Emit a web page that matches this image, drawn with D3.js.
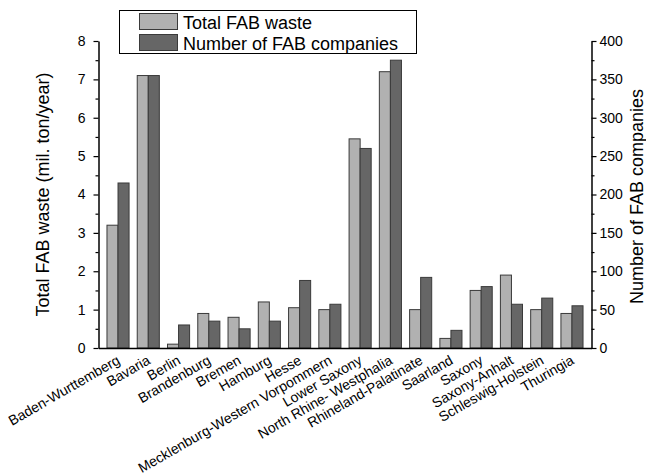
<!DOCTYPE html>
<html>
<head>
<meta charset="utf-8">
<script src="https://cdn.jsdelivr.net/npm/d3@7"></script>
<style>
  html, body { margin: 0; padding: 0; background: #fff; }
  svg { display: block; }
  svg text { font-family: Arial, "Liberation Sans", sans-serif; }
</style>
</head>
<body>
<svg id="chart" width="646" height="475"></svg>
<script>
// Federal states of Germany
const states = [
  "Baden-Wurttemberg", "Bavaria", "Berlin", "Brandenburg", "Bremen", "Hamburg",
  "Hesse", "Mecklenburg-Western Vorpommern", "Lower Saxony", "North Rhine- Westphalia",
  "Rhineland-Palatinate", "Saarland", "Saxony", "Saxony-Anhalt", "Schleswig-Holstein", "Thuringia"
];
// Total FAB waste (mil. ton/year)
const wasteValues = [3.2, 7.1, 0.1, 0.9, 0.8, 1.2, 1.05, 1.0, 5.45, 7.2, 1.0, 0.25, 1.5, 1.9, 1.0, 0.9];
// Number of FAB companies
const companyValues = [215, 355, 30, 35, 25, 35, 88, 57, 260, 375, 92, 23, 80, 57, 65, 55];

const leftTicks = [0, 1, 2, 3, 4, 5, 6, 7, 8];
const rightTicks = [0, 50, 100, 150, 200, 250, 300, 350, 400];
const seriesNames = ["Total FAB waste", "Number of FAB companies"];
const seriesColors = ["#b1b1b1", "#666666"];

const svg = d3.select("#chart");
const plot = { left: 98.5, right: 591.5, top: 41, bottom: 348 };

const x = d3.scaleBand()
  .domain(states)
  .range([plot.left, plot.right])
  .paddingInner(0.27)
  .paddingOuter(0.28);
const xs = d3.scaleBand().domain([0, 1]).range([0, x.bandwidth()]);

const yLeft = d3.scaleLinear().domain([0, 8]).range([plot.bottom, plot.top]);
const yRight = d3.scaleLinear().domain([0, 400]).range([plot.bottom, plot.top]);

// Bars
const groups = svg.append("g").selectAll("g")
  .data(states)
  .join("g")
  .attr("transform", d => `translate(${x(d)},0)`);

groups.append("rect")
  .attr("x", xs(0))
  .attr("width", xs.bandwidth())
  .attr("y", (d, i) => yLeft(wasteValues[i]))
  .attr("height", (d, i) => plot.bottom - yLeft(wasteValues[i]))
  .attr("fill", seriesColors[0])
  .attr("stroke", "#3a3a3a")
  .attr("stroke-width", 1);

groups.append("rect")
  .attr("x", xs(1))
  .attr("width", xs.bandwidth())
  .attr("y", (d, i) => yRight(companyValues[i]))
  .attr("height", (d, i) => plot.bottom - yRight(companyValues[i]))
  .attr("fill", seriesColors[1])
  .attr("stroke", "#3a3a3a")
  .attr("stroke-width", 1);

function styleAxis(g) {
  g.attr("font-family", null).attr("font-size", null);
  g.selectAll("text").attr("font-size", 14).attr("fill", "#000");
  g.select(".domain").attr("stroke-width", 1.5);
  g.selectAll(".tick line").attr("stroke-width", 1.2);
}

// Left axis: minor ticks, then major ticks with labels
svg.append("g").attr("transform", `translate(${plot.left},0)`)
  .call(d3.axisLeft(yLeft).tickValues(d3.range(0.5, 8, 1)).tickSize(3).tickFormat(""))
  .call(styleAxis)
  .call(g => g.select(".domain").remove());
svg.append("g").attr("transform", `translate(${plot.left},0)`)
  .call(d3.axisLeft(yLeft).tickValues(leftTicks).tickSize(5).tickSizeOuter(0).tickPadding(8).tickFormat(d3.format("d")))
  .call(styleAxis);

// Right axis: minor ticks, then major ticks with labels
svg.append("g").attr("transform", `translate(${plot.right},0)`)
  .call(d3.axisRight(yRight).tickValues(d3.range(25, 400, 50)).tickSize(3).tickFormat(""))
  .call(styleAxis)
  .call(g => g.select(".domain").remove());
svg.append("g").attr("transform", `translate(${plot.right},0)`)
  .call(d3.axisRight(yRight).tickValues(rightTicks).tickSize(5).tickSizeOuter(0).tickPadding(3))
  .call(styleAxis);

// Bottom axis line and rotated category labels
const bottom = svg.append("g").attr("transform", `translate(0,${plot.bottom})`)
  .call(d3.axisBottom(x).tickSize(0).tickSizeOuter(0).tickPadding(0))
  .call(styleAxis);
bottom.selectAll(".tick text")
  .attr("text-anchor", "end")
  .attr("y", 0)
  .attr("dy", 0)
  .attr("transform", "translate(3,15) rotate(-30)");

// Axis titles
svg.append("text")
  .attr("transform", `translate(49,${(plot.top + plot.bottom) / 2}) rotate(-90)`)
  .attr("text-anchor", "middle")
  .attr("font-size", 18)
  .text("Total FAB waste (mil. ton/year)");

svg.append("text")
  .attr("transform", `translate(643,${(plot.top + plot.bottom) / 2 + 2}) rotate(-90)`)
  .attr("text-anchor", "middle")
  .attr("font-size", 18)
  .text("Number of FAB companies");

// Legend
const legend = svg.append("g");
legend.append("rect")
  .attr("x", 119.5).attr("y", 10.5).attr("width", 297).attr("height", 43)
  .attr("fill", "#fff").attr("stroke", "#000").attr("stroke-width", 1);
seriesNames.forEach((name, i) => {
  const yTop = i === 0 ? 13.5 : 34.5;
  legend.append("rect")
    .attr("x", 139.5).attr("y", yTop).attr("width", 38).attr("height", 16)
    .attr("fill", seriesColors[i]).attr("stroke", "#3a3a3a").attr("stroke-width", 1);
  legend.append("text")
    .attr("x", 183).attr("y", yTop + 15)
    .attr("font-size", 18)
    .text(name);
});
</script>
</body>
</html>
